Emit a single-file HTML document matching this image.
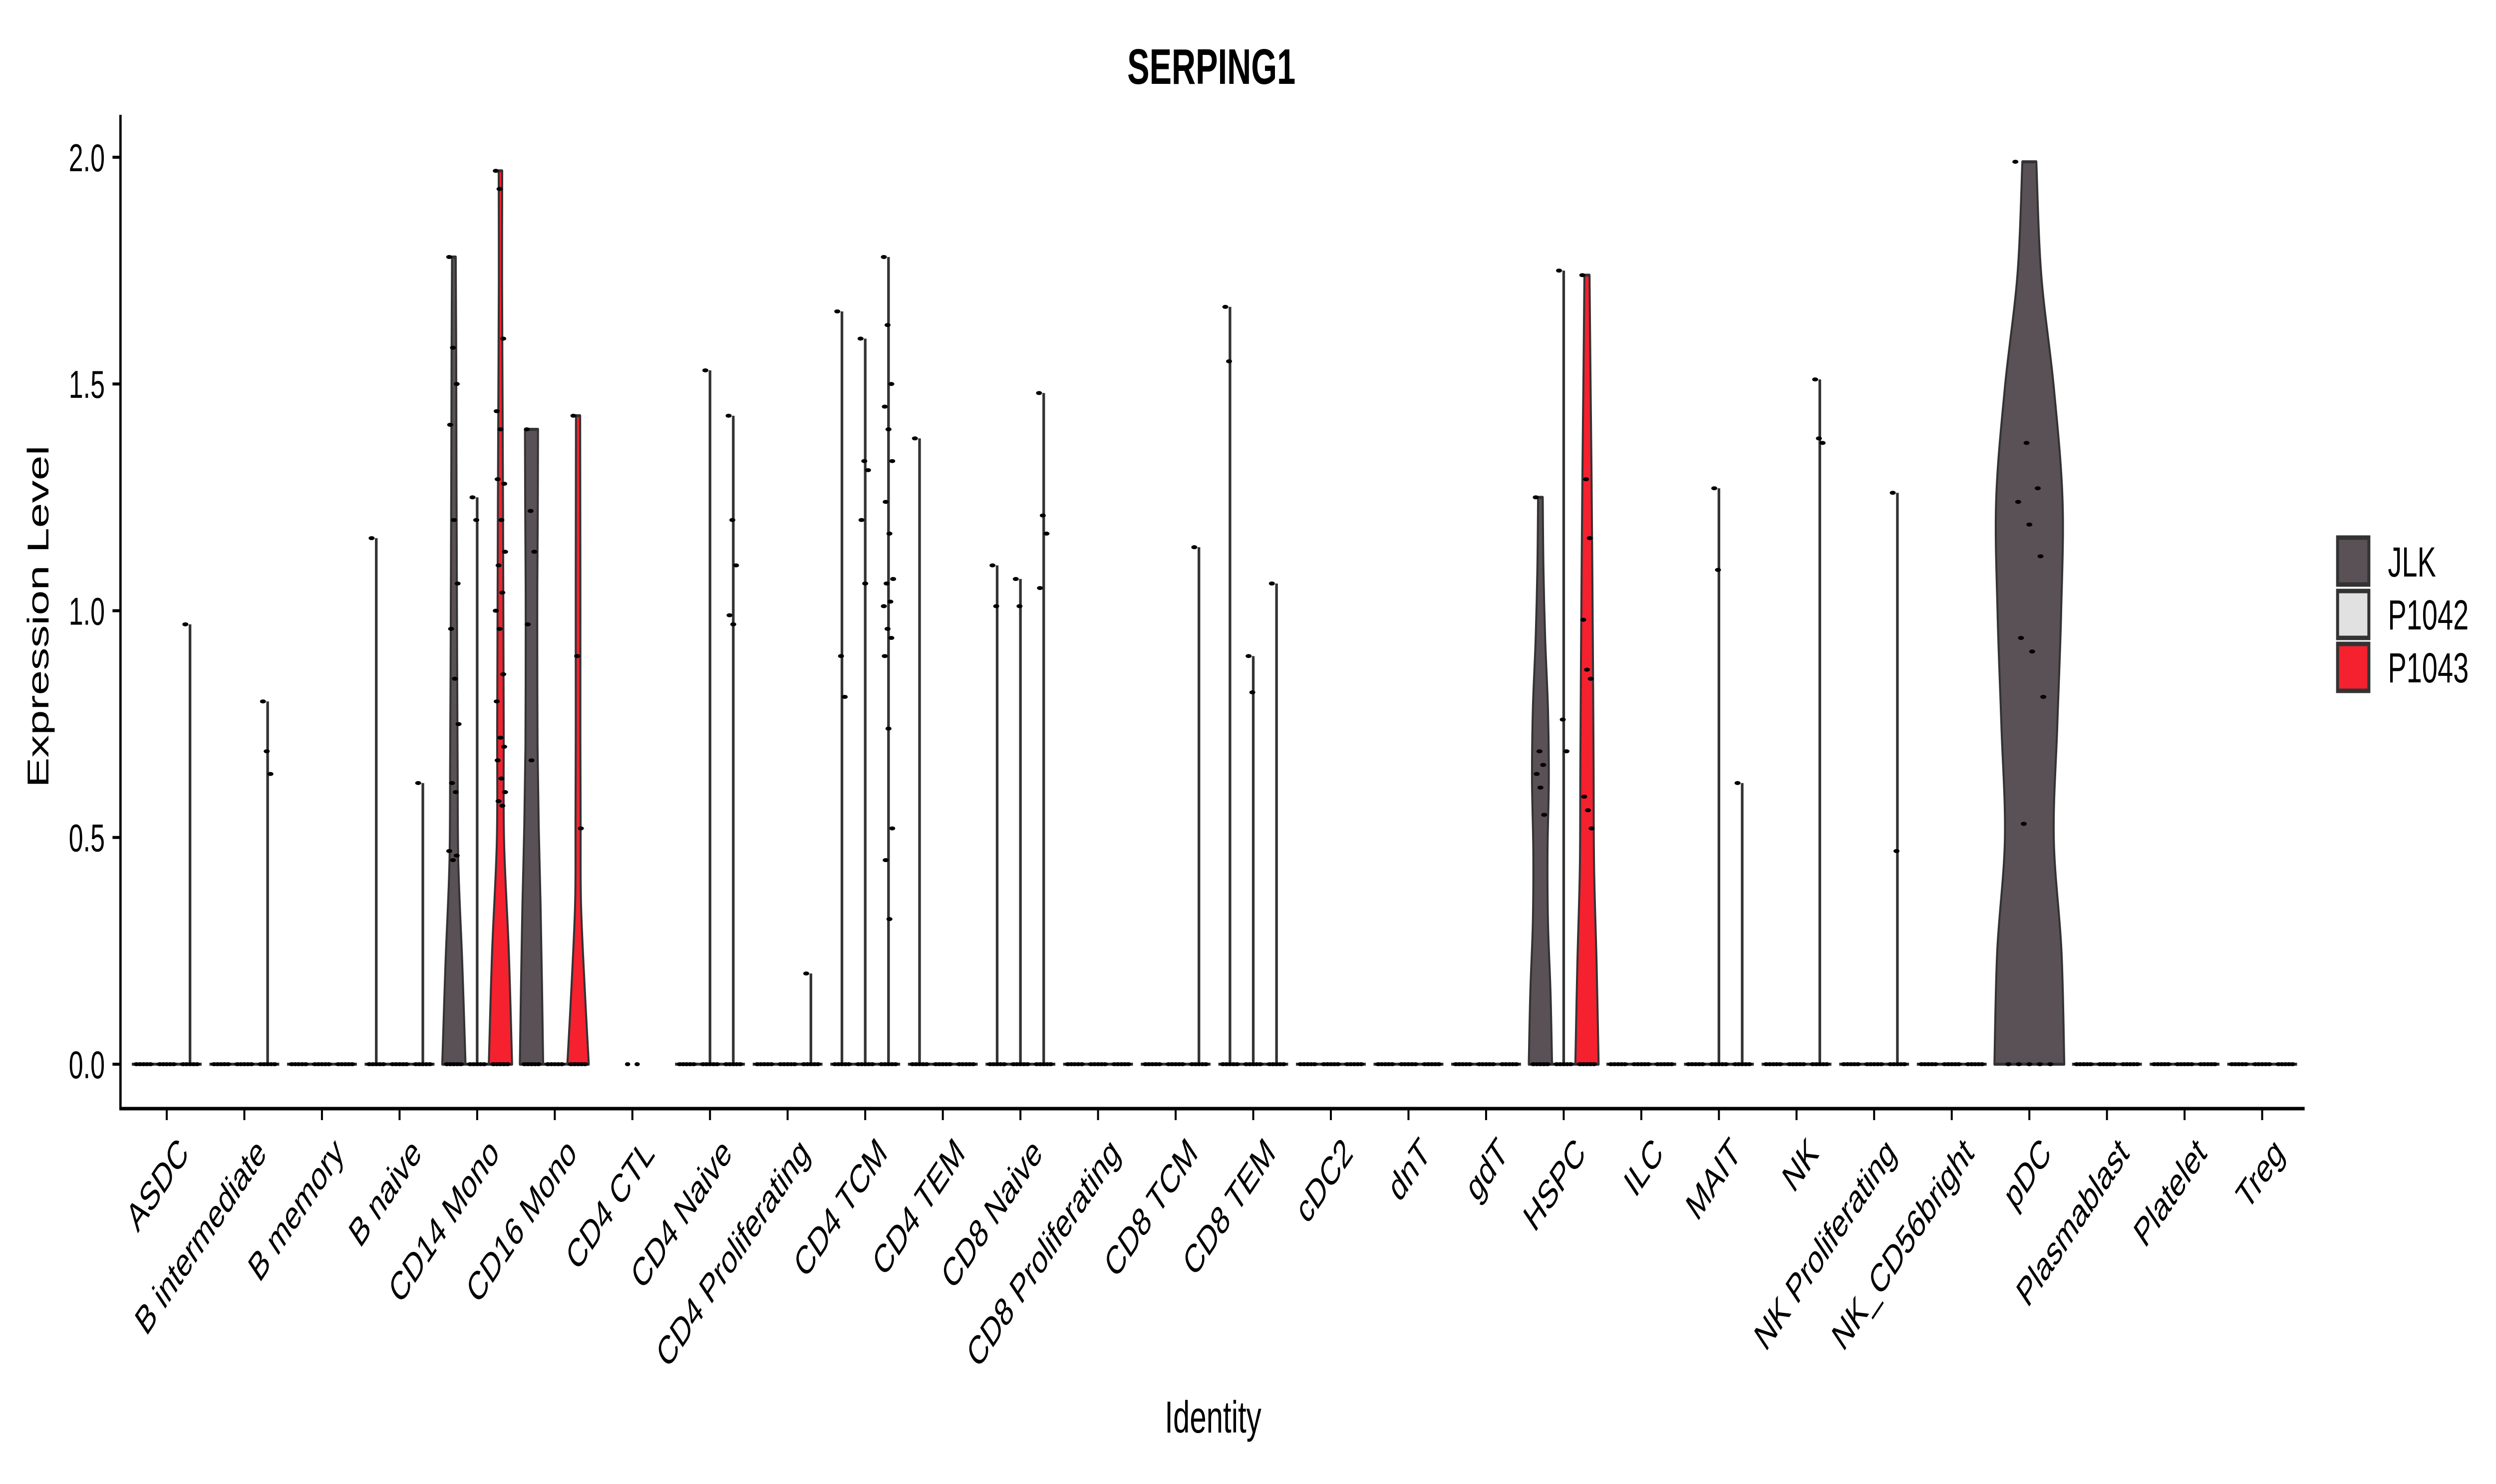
<!DOCTYPE html>
<html><head><meta charset="utf-8"><style>
html,body{margin:0;padding:0;background:#fff;width:100%;height:100%;overflow:hidden}
svg{display:block;width:100vw;height:100vh;font-family:"Liberation Sans",Arial,sans-serif}
</style></head><body>
<svg id="chart" xmlns="http://www.w3.org/2000/svg" viewBox="0 0 7500 2973" preserveAspectRatio="none">
<rect x="0" y="0" width="7500" height="2973" fill="#fff"/>
<text x="3640" y="168" font-size="100" font-weight="bold" text-anchor="middle">SERPING1</text>
<g id="marks"></g>
<g id="axes"></g>
<text transform="translate(122,1235) rotate(-90)" font-size="90" text-anchor="middle" dominant-baseline="middle">Expression Level</text>
<text x="3645" y="2870" font-size="90" text-anchor="middle">Identity</text>
<g>
<rect x="7024" y="1077" width="94" height="94" fill="#5a5156" stroke="#333" stroke-width="9"/>
<rect x="7024" y="1184" width="94" height="94" fill="#e2e1e2" stroke="#333" stroke-width="9"/>
<rect x="7024" y="1290" width="94" height="94" fill="#f5212f" stroke="#333" stroke-width="9"/>
<text x="7175" y="1155" font-size="84">JLK</text>
<text x="7175" y="1261" font-size="84">P1042</text>
<text x="7175" y="1367" font-size="84">P1043</text>
</g>
</svg>
<script>
const categories = ["ASDC","B intermediate","B memory","B naive","CD14 Mono","CD16 Mono","CD4 CTL","CD4 Naive","CD4 Proliferating","CD4 TCM","CD4 TEM","CD8 Naive","CD8 Proliferating","CD8 TCM","CD8 TEM","cDC2","dnT","gdT","HSPC","ILC","MAIT","NK","NK Proliferating","NK_CD56bright","pDC","Plasmablast","Platelet","Treg"];
const series = ["JLK","P1042","P1043"];
const yTicks = [0, 0.5, 1.0, 1.5, 2.0];
const yTickLabels = ["0.0","0.5","1.0","1.5","2.0"];
// max expression per violin (null = group absent)
const maxJLK   = [0,0,0,1.16,1.78,1.40,null,0,0,1.66,1.38,1.10,0,0,1.67,0,0,0,1.25,0,0,0,0,0,1.99,0,0,0];
const maxP1042 = [0,0,0,0,1.25,0,null,1.53,0,1.60,0,1.07,0,0,0.90,0,0,0,1.75,0,1.27,0,0,0,null,0,0,0];
const maxP1043 = [0.97,0.80,0,0.62,1.97,1.43,null,1.43,0.20,1.78,0,1.48,0,1.14,1.06,0,0,0,1.74,0,0.62,1.51,1.26,0,null,0,0,0];
// density (relative half-width) profiles at evenly spaced levels from 0 to max
const profCD14JLK  = [1.0,0.72,0.38,0.32,0.28,0.25,0.22,0.20,0.16];
const profCD14P1043= [1.0,0.72,0.31,0.28,0.25,0.22,0.18,0.14,0.15];
const profCD16JLK  = [1.0,0.90,0.78,0.62,0.52,0.50,0.50,0.54,0.56];
const profCD16P1043= [0.92,0.55,0.25,0.22,0.20,0.20,0.20,0.19,0.18];
const profHSPCJLK  = [1.0,0.87,0.65,0.61,0.72,0.65,0.41,0.26,0.20];
const profHSPCP1043= [1.0,0.83,0.61,0.57,0.52,0.46,0.39,0.30,0.22];
const profPDCJLK   = [1.0,0.92,0.70,0.80,0.91,0.95,0.70,0.34,0.20];
const profilesJLK   = {4:profCD14JLK,5:profCD16JLK,18:profHSPCJLK,24:profPDCJLK};
const profilesP1043 = {4:profCD14P1043,5:profCD16P1043,18:profHSPCP1043};
const profilesP1042 = {};
// cell values (jittered points)
const ptsJLK = {3:[1.16],4:[1.78,1.58,1.50,1.41,1.20,1.06,0.96,0.85,0.75,0.62,0.60,0.47,0.45,0.46],5:[1.40,1.22,1.13,0.97,0.67],9:[1.66,0.90,0.81],10:[1.38],11:[1.10,1.01],14:[1.67,1.55],18:[1.25,0.69,0.66,0.64,0.61,0.55],24:[1.99,1.37,1.27,1.24,1.19,1.12,0.94,0.91,0.81,0.53]};
const ptsP1042 = {4:[1.25,1.20],7:[1.53],9:[1.60,1.33,1.31,1.20,1.06],11:[1.07,1.01],14:[0.90,0.82],18:[1.75,0.76,0.69],20:[1.27,1.09]};
const ptsP1043 = {0:[0.97],1:[0.80,0.69,0.64],3:[0.62],4:[1.97,1.93,1.60,1.44,1.40,1.28,1.29,1.20,1.13,1.10,1.04,1.00,0.96,0.86,0.80,0.72,0.70,0.67,0.63,0.60,0.58,0.57],5:[1.43,0.90,0.52],7:[1.43,1.20,1.10,0.99,0.97],8:[0.20],9:[1.78,1.63,1.50,1.45,1.40,1.33,1.24,1.17,1.07,1.06,1.02,1.01,0.96,0.94,0.90,0.74,0.52,0.45,0.32],11:[1.48,1.21,1.17,1.05],13:[1.14],14:[1.06],18:[1.74,1.29,1.16,0.98,0.87,0.85,0.59,0.56,0.52],20:[0.62],21:[1.51,1.38,1.37],22:[1.26,0.47]};

const NS="http://www.w3.org/2000/svg";
const X0=501, STEP=233.2, Y0=2132, YUNIT=908.5;
const xScale = i => X0 + STEP*i;
const yScale = v => Y0 - v*YUNIT;
const fills = ["#5a5156","#e2e1e2","#f5212f"];
const maxes = [maxJLK,maxP1042,maxP1043];
const profs = [profilesJLK,profilesP1042,profilesP1043];
const pts = [ptsJLK,ptsP1042,ptsP1043];
const marks=document.getElementById('marks');
const axes=document.getElementById('axes');
function mk(tag,attrs,parent){const e=document.createElementNS(NS,tag);for(const k in attrs)e.setAttribute(k,attrs[k]);parent.appendChild(e);return e;}

function smoothPath(pointsArr){
  let d="M"+pointsArr[0][0]+","+pointsArr[0][1];
  for(let i=0;i<pointsArr.length-1;i++){
    const p0=pointsArr[Math.max(0,i-1)],p1=pointsArr[i],p2=pointsArr[i+1],p3=pointsArr[Math.min(pointsArr.length-1,i+2)];
    const c1=[p1[0]+(p2[0]-p0[0])/6,p1[1]+(p2[1]-p0[1])/6];
    const c2=[p2[0]-(p3[0]-p1[0])/6,p2[1]-(p3[1]-p1[1])/6];
    d+=" C"+c1[0]+","+c1[1]+" "+c2[0]+","+c2[1]+" "+p2[0]+","+p2[1];
  }
  return d;
}

categories.forEach((cat,i)=>{
  const present=[0,1,2].filter(s=>maxes[s][i]!==null);
  const g=mk('g',{},marks);
  
  
  if(present.length===0){
    [-8,8].forEach(dx=>{const c=mk('ellipse',{cx:xScale(i)+dx*1.8,cy:yScale(0),rx:8,ry:4,fill:'#000'},g);
      
      });
    return;
  }
  const n=present.length;
  const slot=STEP*0.9/n;
  const halfMax=slot/2;
  present.forEach((s,k)=>{
    const cx=xScale(i)-STEP*0.45+slot*(k+0.5);
    const mx=maxes[s][i];
    const prof=profs[s][i];
    if(prof){
      const L=prof.length;
      const right=[],left=[];
      for(let j=0;j<L;j++){const v=mx*j/(L-1);right.push([cx+prof[j]*halfMax,yScale(v)]);}
      for(let j=L-1;j>=0;j--){const v=mx*j/(L-1);left.push([cx-prof[j]*halfMax,yScale(v)]);}
      let d=smoothPath(right);
      d+=" L"+left[0][0]+","+left[0][1];
      d+=smoothPath(left).replace(/^M[^ ]+/,"");
      d+=" Z";
      const p=mk('path',{d:d,fill:fills[s],stroke:'#333',"stroke-width":6,"stroke-linejoin":"round"},g);
      
      
    } else {
      const base=mk('line',{x1:cx-halfMax,x2:cx+halfMax,y1:yScale(0),y2:yScale(0),stroke:'#333',"stroke-width":6},g);
      
      
      if(mx>0){
        const ln=mk('line',{x1:cx,x2:cx,y1:yScale(0),y2:yScale(mx),stroke:'#333',"stroke-width":8},g);
        
        
      }
    }
    for(let z=0;z<5;z++){
      const e=mk('ellipse',{cx:cx-halfMax*0.6+z*halfMax*0.3,cy:yScale(0),rx:9,ry:4,fill:'#000'},g);
      
      
    }
    const vals=pts[s][i]||[];
    vals.forEach((v,j)=>{
      const jit=(((j*37+i*11)%11)-5)/5*halfMax*0.4;
      const e=mk('ellipse',{cx:cx+jit,cy:yScale(v),rx:9,ry:4,fill:'#000'},g);
      
      
    });
  });
});

const yAxis=mk('line',{x1:362,x2:362,y1:230,y2:2224,stroke:'#000',"stroke-width":7},axes);


const xAxis=mk('line',{x1:359,x2:6925,y1:2221,y2:2221,stroke:'#000',"stroke-width":7},axes);


yTicks.forEach((v,k)=>{
  const t=mk('line',{x1:338,x2:362,y1:yScale(v),y2:yScale(v),stroke:'#000',"stroke-width":6},axes);
  
  
  const tx=mk('text',{x:315,y:yScale(v)+28,"font-size":78,"text-anchor":"end"},axes);
  tx.textContent=yTickLabels[k];
  
  
});
categories.forEach((cat,i)=>{
  const x=xScale(i);
  const t=mk('line',{x1:x,x2:x,y1:2221,y2:2244,stroke:'#000',"stroke-width":6},axes);
  
  
  const tx=mk('text',{transform:"translate("+(x+28)+",2272) rotate(-45)","font-size":80,"text-anchor":"end",dy:"0.74em"},axes);
  tx.textContent=cat;
  
  
});
</script>
</body></html>
